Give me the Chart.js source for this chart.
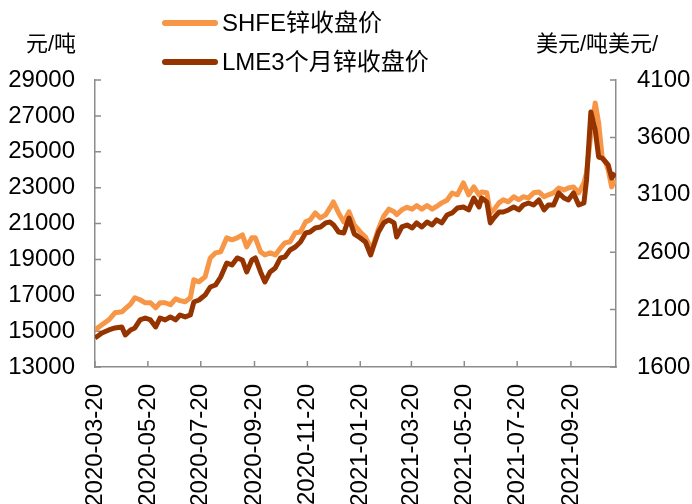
<!DOCTYPE html>
<html>
<head>
<meta charset="utf-8">
<script src="https://cdn.jsdelivr.net/npm/chart.js@4/dist/chart.umd.min.js"></script>
<style>
  html, body { margin: 0; padding: 0; background: #fff; }
</style>
</head>
<body>
<canvas id="chart" width="692" height="504"></canvas>
<script>
"use strict";
const START = "2020-03-20";
const SHFE_LABEL = "SHFE锌收盘价";
const LME_LABEL = "LME3个月锌收盘价";
const LEFT_TITLE = "元/吨";
const RIGHT_TITLE = "美元/吨美元/";

const DATES = [
  "2020-03-20", "2020-03-28", "2020-04-05", "2020-04-12", "2020-04-20", "2020-04-24",
  "2020-04-30", "2020-05-05", "2020-05-11", "2020-05-17", "2020-05-23", "2020-05-29",
  "2020-06-03", "2020-06-09", "2020-06-15", "2020-06-21", "2020-06-26", "2020-07-02",
  "2020-07-08", "2020-07-12", "2020-07-18", "2020-07-25", "2020-07-31", "2020-08-06",
  "2020-08-12", "2020-08-19", "2020-08-25", "2020-08-31", "2020-09-06", "2020-09-11",
  "2020-09-17", "2020-09-21", "2020-09-27", "2020-10-02", "2020-10-08", "2020-10-14",
  "2020-10-20", "2020-10-25", "2020-10-31", "2020-11-06", "2020-11-12", "2020-11-18",
  "2020-11-23", "2020-11-29", "2020-12-05", "2020-12-11", "2020-12-16", "2020-12-20",
  "2020-12-26", "2021-01-01", "2021-01-07", "2021-01-13", "2021-01-20", "2021-01-26",
  "2021-02-01", "2021-02-04", "2021-02-10", "2021-02-16", "2021-02-22", "2021-02-28",
  "2021-03-03", "2021-03-09", "2021-03-15", "2021-03-21", "2021-03-26", "2021-04-01",
  "2021-04-07", "2021-04-13", "2021-04-18", "2021-04-24", "2021-04-30", "2021-05-06",
  "2021-05-12", "2021-05-19", "2021-05-25", "2021-05-31", "2021-06-06", "2021-06-09",
  "2021-06-15", "2021-06-19", "2021-06-23", "2021-06-29", "2021-07-04", "2021-07-10",
  "2021-07-16", "2021-07-22", "2021-07-27", "2021-08-02", "2021-08-08", "2021-08-14",
  "2021-08-20", "2021-08-25", "2021-08-31", "2021-09-06", "2021-09-12", "2021-09-17",
  "2021-09-23", "2021-09-29", "2021-10-05", "2021-10-08", "2021-10-13", "2021-10-18",
  "2021-10-22", "2021-10-26", "2021-10-30", "2021-11-02", "2021-11-06", "2021-11-10"
];

// 元/吨
const SHFE = [
  15070, 15350, 15630, 16020, 16080, 16250,
  16500, 16860, 16750, 16580, 16580, 16300,
  16580, 16580, 16470, 16800, 16700, 16640,
  16860, 17860, 17750, 18030, 19080, 19360,
  19420, 20200, 20090, 20200, 20370, 19700,
  20200, 20200, 19420, 19250, 19360, 19250,
  19640, 19920, 19980, 20480, 20530, 21090,
  21200, 21590, 21310, 21480, 21870, 22200,
  21590, 21090, 21650, 20920, 20530, 20250,
  19640, 19800, 20700, 21400, 21800, 21650,
  21500, 21760, 21900, 21800, 22000, 21800,
  22000, 21800, 21950, 22150, 22300, 22700,
  22600, 23260, 22600, 23040, 22600, 22760,
  22710, 21590, 21760, 22150, 22320, 22210,
  22490, 22320, 22490, 22430, 22710, 22760,
  22490, 22600, 22710, 22980, 22870, 22980,
  23040, 22710, 23260, 23820, 26000, 27720,
  26600, 24710, 24430, 23990, 23040, 23430
];

// 美元/吨
const LME = [
  1853, 1896, 1923, 1940, 1949, 1879,
  1923, 1940, 2010, 2027, 2010, 1949,
  2027, 2010, 2036, 2010, 2053, 2036,
  2053, 2166, 2184, 2227, 2297, 2314,
  2384, 2506, 2489, 2550, 2532, 2428,
  2532, 2550, 2428, 2341, 2428, 2463,
  2550, 2558, 2619, 2645, 2689, 2767,
  2776, 2811, 2820, 2855, 2863, 2840,
  2776, 2767, 2898, 2760, 2724, 2689,
  2576, 2645, 2776, 2855, 2881, 2855,
  2733, 2820, 2837, 2811, 2855, 2820,
  2863, 2837, 2881, 2855, 2924, 2942,
  2985, 2994, 2968, 3072, 2994, 3072,
  3037, 2855, 2898, 2950, 2950, 2968,
  2994, 2968, 3011, 3029, 3011, 3055,
  2968, 3011, 3011, 3116, 3072, 3055,
  3116, 3011, 3029, 3229, 3821, 3665,
  3429, 3420, 3386, 3360, 3246, 3290
];

const X_TICKS = [
  "2020-03-20", "2020-05-20", "2020-07-20", "2020-09-20", "2020-11-20",
  "2021-01-20", "2021-03-20", "2021-05-20", "2021-07-20", "2021-09-20"
];
const LEFT_TICKS = [13000, 15000, 17000, 19000, 21000, 23000, 25000, 27000, 29000];
const RIGHT_TICKS = [1600, 2100, 2600, 3100, 3600, 4100];
const X_END = "2021-11-11";

const ORANGE = "#F79646";
const BROWN = "#963400";
const AXIS = "#8c8c8c";
const FONT = "'Liberation Sans', Arial, 'Noto Sans CJK SC', sans-serif";

function dayOf(s) {
  return Math.round((Date.parse(s) - Date.parse(START)) / 86400000);
}

const tickLabel = {};
X_TICKS.forEach((d) => (tickLabel[dayOf(d)] = d));

// ticks point into the plot, like the original
const innerTicks = {
  id: "innerTicks",
  beforeDatasetsDraw(chart) {
    const { ctx, chartArea } = chart;
    const { x, y, y1 } = chart.scales;
    ctx.save();
    ctx.strokeStyle = AXIS;
    ctx.lineWidth = 1.5;
    ctx.beginPath();
    y.ticks.forEach((t, i) => {
      const p = y.getPixelForTick(i);
      ctx.moveTo(chartArea.left, p);
      ctx.lineTo(chartArea.left + 6, p);
    });
    y1.ticks.forEach((t, i) => {
      const p = y1.getPixelForTick(i);
      ctx.moveTo(chartArea.right, p);
      ctx.lineTo(chartArea.right - 6, p);
    });
    x.ticks.forEach((t, i) => {
      const p = x.getPixelForTick(i);
      ctx.moveTo(p, chartArea.bottom);
      ctx.lineTo(p, chartArea.bottom - 6);
    });
    ctx.stroke();
    ctx.restore();
  },
};

const legendAndTitles = {
  id: "legendAndTitles",
  afterDraw(chart) {
    const ctx = chart.ctx;
    ctx.save();
    ctx.textBaseline = "middle";
    ctx.fillStyle = "#000";
    ctx.font = "22px " + FONT;
    ctx.textAlign = "center";
    ctx.fillText(LEFT_TITLE, 51, 45);
    ctx.fillText(RIGHT_TITLE, 597, 45);

    ctx.textAlign = "left";
    ctx.font = "24px " + FONT;
    ctx.lineCap = "round";
    ctx.lineWidth = 6;
    chart.data.datasets.forEach((ds, i) => {
      const yy = 23 + i * 39;
      ctx.strokeStyle = ds.borderColor;
      ctx.beginPath();
      ctx.moveTo(165, yy);
      ctx.lineTo(215, yy);
      ctx.stroke();
      ctx.fillText(ds.label, 222, yy + 1);
    });
    ctx.restore();
  },
};

Chart.defaults.font.family = FONT;
Chart.defaults.color = "#000";

new Chart(document.getElementById("chart"), {
  type: "line",
  data: {
    datasets: [
      {
        label: SHFE_LABEL,
        data: DATES.map((d, i) => ({ x: dayOf(d), y: SHFE[i] })),
        borderColor: ORANGE,
        borderWidth: 5,
        borderJoinStyle: "round",
        pointRadius: 0,
        tension: 0,
        yAxisID: "y",
        order: 1,
      },
      {
        label: LME_LABEL,
        data: DATES.map((d, i) => ({ x: dayOf(d), y: LME[i] })),
        borderColor: BROWN,
        borderWidth: 5,
        borderJoinStyle: "round",
        pointRadius: 0,
        tension: 0,
        yAxisID: "y1",
        order: 0,
      },
    ],
  },
  options: {
    responsive: false,
    animation: false,
    devicePixelRatio: 1,
    layout: { padding: { top: 80, left: 0, right: 0, bottom: 0 } },
    plugins: { legend: { display: false }, tooltip: { enabled: false } },
    scales: {
      x: {
        type: "linear",
        min: 0,
        max: dayOf(X_END),
        afterBuildTicks: (s) => (s.ticks = X_TICKS.map((d) => ({ value: dayOf(d) }))),
        afterFit: (s) => (s.height = 137),
        ticks: {
          autoSkip: false,
          minRotation: 90,
          maxRotation: 90,
          padding: 17,
          font: { size: 24 },
          callback: (v) => tickLabel[v] || "",
        },
        grid: { drawOnChartArea: false, drawTicks: false },
        border: { color: AXIS, width: 1.5 },
      },
      y: {
        position: "left",
        min: 13000,
        max: 29000,
        afterBuildTicks: (s) => (s.ticks = LEFT_TICKS.map((v) => ({ value: v }))),
        afterFit: (s) => (s.width = 95),
        ticks: { padding: 20, font: { size: 24 }, callback: (v) => String(v) },
        grid: { drawOnChartArea: false, drawTicks: false },
        border: { color: AXIS, width: 1.5 },
      },
      y1: {
        position: "right",
        min: 1600,
        max: 4100,
        afterBuildTicks: (s) => (s.ticks = RIGHT_TICKS.map((v) => ({ value: v }))),
        afterFit: (s) => (s.width = 76),
        ticks: { padding: 21, font: { size: 24 }, callback: (v) => String(v) },
        grid: { drawOnChartArea: false, drawTicks: false },
        border: { color: AXIS, width: 1.5 },
      },
    },
  },
  plugins: [innerTicks, legendAndTitles],
});
</script>
</body>
</html>
